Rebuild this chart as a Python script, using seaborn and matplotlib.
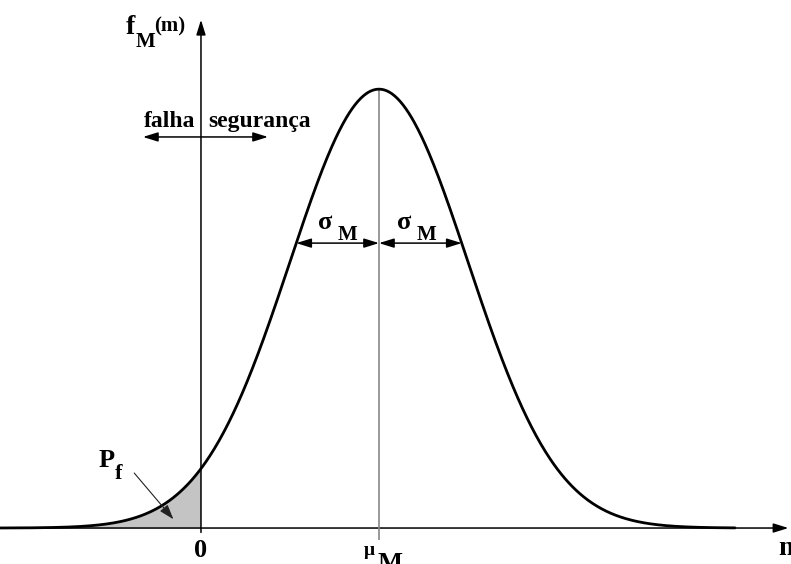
import numpy as np
import pandas as pd
import matplotlib
matplotlib.use("Agg")
import matplotlib.pyplot as plt
import seaborn as sns

# Safety margin M = R - S, normally distributed
mu_M = 2.0        # mean of the margin
sigma_M = 1.0     # standard deviation of the margin
m_start, m_end = -2.3, 6.0   # range over which the density is traced

sns.set_theme(style="white")
plt.rcParams["font.family"] = ["Liberation Serif", "DejaVu Serif"]
plt.rcParams["font.weight"] = "bold"
plt.rcParams["text.color"] = "black"

W, H = 791, 564
fig = plt.figure(figsize=(W / 100, H / 100), dpi=100)
ax = fig.add_axes([0, 0, 1, 1])
ax.set_xlim(-2.258, 6.629)
ax.set_ylim(-0.0327, 0.48)
ax.axis("off")

m = np.linspace(m_start, m_end, 800)
f = np.exp(-0.5 * ((m - mu_M) / sigma_M) ** 2) / (sigma_M * np.sqrt(2 * np.pi))
df = pd.DataFrame({"m": m, "f": f})
peak = 1 / (sigma_M * np.sqrt(2 * np.pi))

# failure region shading (m < 0)
fail = df[df["m"] <= 0]
ax.fill_between(fail["m"], 0, fail["f"], color="#c4c4c4", lw=0, zorder=1)

# coordinate axes with arrow heads
head = dict(arrowstyle="-|>,head_length=0.9,head_width=0.28", color="black",
            lw=1.1, shrinkA=0, shrinkB=0, mutation_scale=10)
ax.annotate("", xy=(6.60, 0), xytext=(-2.26, 0), arrowprops=head, zorder=2)
ax.annotate("", xy=(0, 0.462), xytext=(0, -0.004), arrowprops=head, zorder=2)

# mean line
ax.vlines(mu_M, -0.011, peak, color="#888888", lw=1.2, zorder=2)

# density curve
sns.lineplot(data=df, x="m", y="f", color="black", lw=2.0, ax=ax, zorder=3)

# sigma arrows, drawn between the mean and the curve
y_sig = 0.259
dz = np.sqrt(-2 * np.log(y_sig * sigma_M * np.sqrt(2 * np.pi)))
dbl = dict(arrowstyle="<|-|>,head_length=0.9,head_width=0.28", color="black",
           lw=1.1, shrinkA=0, shrinkB=0, mutation_scale=10)
ax.annotate("", xy=(mu_M - dz * sigma_M, y_sig), xytext=(mu_M, y_sig), arrowprops=dbl)
ax.annotate("", xy=(mu_M, y_sig), xytext=(mu_M + dz * sigma_M, y_sig), arrowprops=dbl)


def ftxt(x, y, s, size, ha="left", va="baseline"):
    """Place bold serif text at a pixel position (origin top-left)."""
    fig.text(x / W, 1 - y / H, s, fontsize=size, fontweight="bold",
             color="black", ha=ha, va=va)


# sigma labels
for xl in (318, 397):
    ftxt(xl, 229, "σ", 19)
    ftxt(xl + 20, 240, "M", 15)

# failure / safety indicator
ftxt(195, 127, "falha", 17, ha="right")
ftxt(208, 127, "segurança", 17)
ax.annotate("", xy=(-0.652, 0.3555), xytext=(0.753, 0.3555), arrowprops=dbl)

# density axis label
ftxt(126, 34, "f", 20)
ftxt(136, 47, "M", 15)
ftxt(154, 31, "(m)", 15)

# failure probability label and pointer
ftxt(99, 467, "P", 19)
ftxt(115, 479, "f", 16)
ax.annotate("", xy=(-0.31, 0.008), xytext=(-0.75, 0.05),
            arrowprops=dict(arrowstyle="-|>,head_length=0.9,head_width=0.3",
                            color="#222222", lw=0.8, shrinkA=0, shrinkB=0,
                            mutation_scale=10))

# axis tick labels
ftxt(201, 557, "0", 19, ha="center")
ftxt(364, 555, "μ", 14)
ftxt(377, 570, "M", 19)
ftxt(778, 555, "m", 20)

fig.savefig("out.png", dpi=100)
